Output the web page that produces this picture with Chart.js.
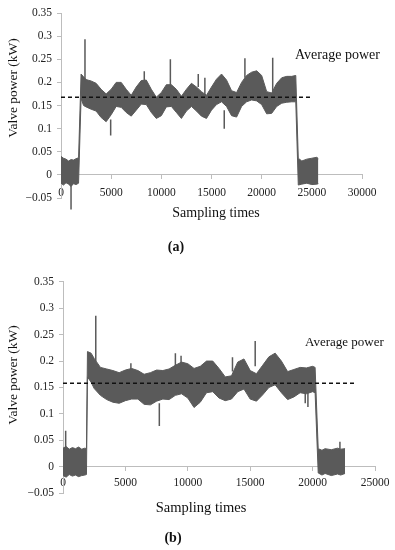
<!DOCTYPE html>
<html>
<head>
<meta charset="utf-8">
<script src="https://cdn.jsdelivr.net/npm/chart.js@4.4.0/dist/chart.umd.min.js"></script>
<style>
  body { margin: 0; background: #fff; width: 395px; height: 550px; overflow: hidden; position: relative; font-family: "Liberation Serif", serif; color: #111; }
  canvas { position: absolute; left: 0; }
  .ytitle { position: absolute; white-space: nowrap; transform: translate(-50%, -50%) rotate(-90deg); }
  .ctr { position: absolute; white-space: nowrap; transform: translate(-50%, -50%); }
  .lft { position: absolute; white-space: nowrap; transform: translateY(-50%); }
</style>
</head>
<body>
<canvas id="chartA" width="395" height="225" style="top:0"></canvas>
<canvas id="chartB" width="395" height="245" style="top:270px"></canvas>

<div class="ytitle" style="left:13px;top:88px;font-size:13.5px">Valve power (kW)</div>
<div class="ctr" style="left:216px;top:213px;font-size:14px">Sampling times</div>
<div class="lft" style="left:295px;top:55px;font-size:14px">Average power</div>
<div class="ctr" style="left:176px;top:247px;font-size:14px;font-weight:bold">(a)</div>

<div class="ytitle" style="left:13px;top:375px;font-size:13.5px">Valve power (kW)</div>
<div class="ctr" style="left:201px;top:507px;font-size:14.5px">Sampling times</div>
<div class="lft" style="left:305px;top:342px;font-size:13px">Average power</div>
<div class="ctr" style="left:173px;top:538px;font-size:14px;font-weight:bold">(b)</div>

<script>
// tick values and labels
const yTicks = [-0.05, 0, 0.05, 0.1, 0.15, 0.2, 0.25, 0.3, 0.35];
const yTickLabels = ['\u22120.05', '0', '0.05', '0.1', '0.15', '0.2', '0.25', '0.3', '0.35'];
const xTicksA = [0, 5000, 10000, 15000, 20000, 25000, 30000];
const xTicksB = [0, 5000, 10000, 15000, 20000, 25000];

// (a) signal envelope
const timesA = [0, 250, 500, 750, 1000, 1250, 1500, 1750,
  2000, 2250, 2500, 3000, 3500, 4000, 4500, 5000,
  5500, 6000, 6500, 7000, 7500, 8000, 8500, 9000,
  9500, 10000, 10500, 11000, 11500, 12000, 12500, 13000,
  13500, 14000, 14500, 15000, 15500, 16000, 16500, 17000,
  17500, 18000, 18500, 19000, 19500, 20000, 20500, 21000,
  21500, 22000, 22500, 23000, 23400,
  23650, 24000, 24500, 25000, 25500, 25650];
const upperA = [0.040, 0.036, 0.034, 0.030, 0.033, 0.032, 0.035, 0.037,
  0.218, 0.212, 0.206, 0.203, 0.198, 0.185, 0.175, 0.185,
  0.200, 0.200, 0.185, 0.172, 0.190, 0.204, 0.205, 0.185,
  0.168, 0.178, 0.195, 0.195, 0.185, 0.170, 0.185, 0.198,
  0.190, 0.180, 0.172, 0.190, 0.207, 0.218, 0.205, 0.182,
  0.178, 0.200, 0.215, 0.222, 0.225, 0.215, 0.180, 0.177,
  0.198, 0.210, 0.213, 0.213, 0.215,
  0.036, 0.030, 0.034, 0.036, 0.038, 0.035];
const lowerA = [-0.018, -0.022, -0.017, -0.020, -0.025, -0.019, -0.021, -0.018,
  0.165, 0.150, 0.147, 0.142, 0.138, 0.124, 0.115, 0.130,
  0.148, 0.146, 0.135, 0.127, 0.140, 0.153, 0.152, 0.135,
  0.122, 0.128, 0.147, 0.148, 0.135, 0.122, 0.138, 0.148,
  0.138, 0.127, 0.122, 0.140, 0.152, 0.158, 0.148, 0.128,
  0.125, 0.148, 0.158, 0.162, 0.160, 0.152, 0.132, 0.133,
  0.148, 0.155, 0.157, 0.158, 0.158,
  -0.022, -0.020, -0.018, -0.021, -0.020, -0.019];
const spikeTimesA = [1000, 2390, 4950, 8300, 10900, 13680, 14340, 16270, 18330, 21100];
const spikeFromA = [-0.02, 0.2, 0.12, 0.2, 0.19, 0.19, 0.17, 0.14, 0.21, 0.175];
const spikeToA = [-0.075, 0.293, 0.085, 0.224, 0.25, 0.218, 0.21, 0.1, 0.252, 0.253];
const avgA = 0.168;
const avgEndA = 25000;

// (b) signal envelope
const timesB = [0, 250, 500, 750, 1000, 1250, 1500, 1750,
  1880, 1960, 2250, 2500, 3000, 3500, 4000, 4500, 5000,
  5500, 6000, 6500, 7000, 7500, 8000, 8500, 9000,
  9500, 10000, 10500, 11000, 11500, 12000, 12500, 13000,
  13500, 14000, 14500, 15000, 15500, 16000, 16500, 17000,
  17500, 18000, 18500, 19000, 19500, 20000, 20200,
  20450, 20750, 21000, 21500, 22000, 22250, 22600];
const upperB = [0.035, 0.038, 0.033, 0.036, 0.034, 0.037, 0.033, 0.035,
  0.034, 0.218, 0.215, 0.205, 0.188, 0.185, 0.182, 0.178, 0.183,
  0.186, 0.182, 0.175, 0.178, 0.183, 0.182, 0.185, 0.192,
  0.198, 0.195, 0.186, 0.190, 0.200, 0.200, 0.186, 0.170,
  0.172, 0.198, 0.204, 0.182, 0.176, 0.192, 0.208, 0.215,
  0.200, 0.180, 0.184, 0.188, 0.187, 0.190, 0.188,
  0.034, 0.031, 0.034, 0.032, 0.035, 0.033, 0.034];
const lowerB = [-0.017, -0.020, -0.015, -0.018, -0.016, -0.019, -0.017, -0.016,
  -0.015, 0.170, 0.160, 0.148, 0.135, 0.127, 0.122, 0.120, 0.125,
  0.128, 0.128, 0.118, 0.117, 0.124, 0.128, 0.127, 0.135,
  0.138, 0.130, 0.112, 0.122, 0.140, 0.142, 0.130, 0.125,
  0.128, 0.142, 0.147, 0.128, 0.124, 0.136, 0.150, 0.155,
  0.140, 0.127, 0.132, 0.140, 0.138, 0.142, 0.140,
  -0.012, -0.016, -0.013, -0.017, -0.014, -0.016, -0.013];
const spikeTimesB = [214, 2626, 5440, 7718, 9005, 9460, 13580, 15400, 19410, 19625, 22190];
const spikeFromB = [0.03, 0.2, 0.18, 0.12, 0.19, 0.19, 0.18, 0.19, 0.14, 0.14, 0.03];
const spikeToB = [0.068, 0.286, 0.196, 0.077, 0.215, 0.21, 0.207, 0.238, 0.12, 0.113, 0.047];
const avgB = 0.158;
const avgEndB = 23400;

const bandColor = '#5a5a5a';
const axisColor = '#bdbdbd';
const tickFont = { family: 'Liberation Serif', size: 11.5 };

function drawChart(id, d) {
  const spikes = [];
  d.spikeTimes.forEach(function (t, i) {
    spikes.push({ x: t, y: d.spikeFrom[i] });
    spikes.push({ x: t, y: d.spikeTo[i] });
    spikes.push({ x: t, y: null });
  });

  new Chart(document.getElementById(id), {
    type: 'line',
    data: {
      datasets: [{
        data: [{ x: 0, y: d.avg }, { x: d.avgEnd, y: d.avg }],
        borderColor: '#111',
        borderWidth: 1.5,
        borderDash: [4, 3],
        pointRadius: 0,
        order: 0
      }, {
        data: spikes,
        borderColor: bandColor,
        borderWidth: 1.5,
        pointRadius: 0,
        spanGaps: false,
        clip: false,
        order: 1
      }, {
        data: d.times.map((t, i) => ({ x: t, y: d.upper[i] })),
        borderColor: bandColor,
        backgroundColor: bandColor,
        borderWidth: 1,
        pointRadius: 0,
        fill: '+1',
        order: 2
      }, {
        data: d.times.map((t, i) => ({ x: t, y: d.lower[i] })),
        borderColor: bandColor,
        borderWidth: 1,
        pointRadius: 0,
        fill: false,
        order: 2
      }]
    },
    options: {
      responsive: false,
      animation: false,
      layout: { padding: d.padding },
      plugins: { legend: { display: false }, tooltip: { enabled: false } },
      scales: {
        x: {
          type: 'linear',
          position: { y: 0 },
          min: 0,
          max: d.xTicks[d.xTicks.length - 1],
          afterBuildTicks: function (scale) {
            scale.ticks = d.xTicks.map(v => ({ value: v }));
          },
          ticks: {
            callback: (v, i) => String(d.xTicks[i]),
            font: tickFont,
            color: '#222',
            padding: d.xPad,
            maxRotation: 0,
            autoSkip: false
          },
          grid: { drawOnChartArea: false, drawTicks: true, tickLength: 4, color: axisColor },
          border: { color: axisColor }
        },
        y: {
          min: -0.05,
          max: 0.35,
          afterBuildTicks: function (scale) {
            scale.ticks = yTicks.map(v => ({ value: v }));
          },
          afterFit: function (scale) {
            scale.width = d.yWidth;
          },
          ticks: {
            callback: (v, i) => yTickLabels[i],
            font: tickFont,
            color: '#222',
            padding: 5
          },
          grid: { drawOnChartArea: false, drawTicks: true, tickLength: 4, color: axisColor },
          border: { color: axisColor }
        }
      }
    }
  });
}

drawChart('chartA', {
  times: timesA, upper: upperA, lower: lowerA,
  spikeTimes: spikeTimesA, spikeFrom: spikeFromA, spikeTo: spikeToA,
  avg: avgA, avgEnd: avgEndA, xTicks: xTicksA,
  padding: { top: 13, right: 33, bottom: 27, left: 0 },
  yWidth: 61, xPad: 7
});

drawChart('chartB', {
  times: timesB, upper: upperB, lower: lowerB,
  spikeTimes: spikeTimesB, spikeFrom: spikeFromB, spikeTo: spikeToB,
  avg: avgB, avgEnd: avgEndB, xTicks: xTicksB,
  padding: { top: 11, right: 20, bottom: 22, left: 0 },
  yWidth: 63, xPad: 5.5
});
</script>
</body>
</html>
